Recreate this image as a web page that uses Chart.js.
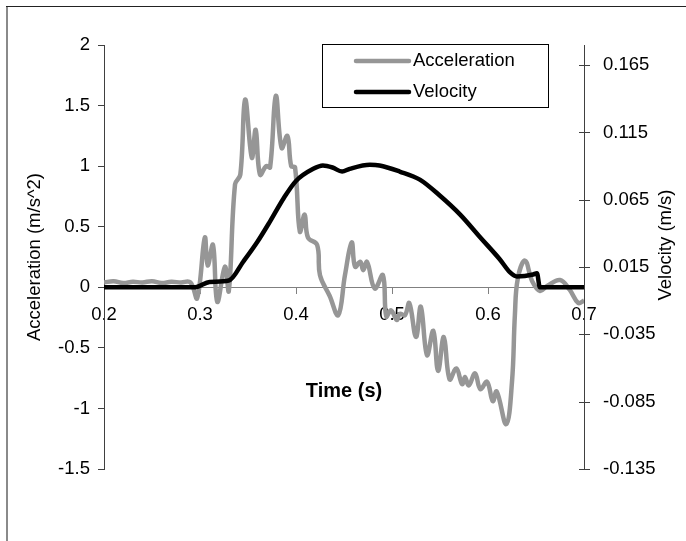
<!DOCTYPE html>
<html>
<head>
<meta charset="utf-8">
<script src="https://cdn.jsdelivr.net/npm/chart.js"></script>
<style>
  html, body { margin: 0; padding: 0; background: #fff; }
  canvas { display: block; }
</style>
</head>
<body>
<canvas id="chart" width="686" height="541"></canvas>
<script>
// acceleration trace (time in s, m/s^2)
const accTime = [0.200, 0.210, 0.220, 0.230, 0.240, 0.250, 0.260, 0.270, 0.280, 0.290,
    0.297, 0.305, 0.308, 0.3135, 0.318, 0.326, 0.330, 0.3365, 0.342, 0.347,
    0.354, 0.358, 0.3625, 0.369, 0.373, 0.379, 0.385, 0.391, 0.395, 0.399,
    0.404, 0.409, 0.4125, 0.422, 0.425, 0.435, 0.444, 0.451, 0.458, 0.4615,
    0.467, 0.470, 0.474, 0.482, 0.4905, 0.494, 0.499, 0.505, 0.508, 0.5135,
    0.518, 0.525, 0.530, 0.5365, 0.543, 0.548, 0.554, 0.560, 0.567, 0.573,
    0.576, 0.580, 0.5865, 0.592, 0.599, 0.605, 0.609, 0.619, 0.625, 0.628,
    0.631, 0.6385, 0.646, 0.654, 0.6615, 0.675, 0.685, 0.694, 0.700];
const accValues = [0.04, 0.05, 0.035, 0.045, 0.04, 0.05, 0.035, 0.045, 0.04, 0.04,
    -0.09, 0.41, 0.18, 0.35, -0.12, 0.17, -0.03, 0.85, 0.93, 1.55,
    1.07, 1.30, 0.93, 1.0, 0.99, 1.58, 1.15, 1.25, 1.0, 0.99,
    0.46, 0.6, 0.41, 0.35, 0.10, -0.07, -0.23, 0.10, 0.37, 0.17,
    0.21, 0.14, 0.21, -0.01, 0.10, -0.24, -0.19, -0.27, -0.22, -0.23,
    -0.13, -0.41, -0.16, -0.56, -0.36, -0.69, -0.41, -0.76, -0.67, -0.80,
    -0.74, -0.81, -0.71, -0.84, -0.78, -0.94, -0.86, -1.13, -0.78, -0.23,
    0.07, 0.22, 0.05, -0.03, 0.01, 0.06, -0.02, -0.13, -0.11];

// velocity trace (time in s, m/s)
const velTime = [0.2, 0.295, 0.31, 0.33, 0.345, 0.36, 0.373, 0.387, 0.40, 0.418,
    0.428, 0.438, 0.448, 0.456, 0.477, 0.487, 0.508, 0.529, 0.55, 0.571,
    0.592, 0.612, 0.623, 0.63, 0.647, 0.651, 0.654, 0.7];
const velValues = [0, 0, 0.004, 0.005, 0.019, 0.034, 0.049, 0.066, 0.079, 0.088,
    0.0905, 0.089, 0.086, 0.088, 0.091, 0.0905, 0.086, 0.080, 0.068, 0.054,
    0.037, 0.021, 0.011, 0.008, 0.0095, 0.0105, 0, 0];

const timeTicks = [0.2, 0.3, 0.4, 0.5, 0.6, 0.7];
const accTicks = [-1.5, -1, -0.5, 0, 0.5, 1, 1.5, 2];
const velTicks = [-0.135, -0.085, -0.035, 0.015, 0.065, 0.115, 0.165];

const FONT = "'Liberation Sans', Arial, sans-serif";
Chart.defaults.font.family = FONT;
Chart.defaults.font.size = 18.5;
Chart.defaults.color = '#000';

const toPoints = (xs, ys) => xs.map((x, i) => ({ x: x, y: ys[i] }));

// frame, right-axis cross ticks, titles and the boxed legend
const decorations = {
    id: 'decorations',
    beforeDraw(chart) {
        const ctx = chart.ctx;
        ctx.save();
        ctx.fillStyle = '#fff';
        ctx.fillRect(0, 0, chart.width, chart.height);
        ctx.strokeStyle = '#8a8a8a';
        ctx.lineWidth = 2;
        ctx.beginPath();
        ctx.moveTo(7, chart.height);
        ctx.lineTo(7, 6);
        ctx.stroke();
        ctx.strokeStyle = '#222';
        ctx.lineWidth = 1;
        ctx.beginPath();
        ctx.moveTo(6, 6.5);
        ctx.lineTo(chart.width, 6.5);
        ctx.stroke();
        ctx.restore();
    },
    afterDraw(chart) {
        const ctx = chart.ctx;
        const y1 = chart.scales.y1;
        const area = chart.chartArea;
        ctx.save();

        ctx.strokeStyle = '#404040';
        ctx.lineWidth = 1;
        y1.ticks.forEach(t => {
            const py = Math.round(y1.getPixelForValue(t.value)) + 0.5;
            ctx.beginPath();
            ctx.moveTo(area.right - 5, py);
            ctx.lineTo(area.right + 6, py);
            ctx.stroke();
        });

        ctx.fillStyle = '#000';
        ctx.textAlign = 'center';
        ctx.textBaseline = 'middle';
        ctx.font = "18.5px " + FONT;
        ctx.save();
        ctx.translate(666, 245);
        ctx.rotate(-Math.PI / 2);
        ctx.fillText('Velocity (m/s)', 0, 0);
        ctx.restore();

        ctx.font = "bold 20px " + FONT;
        ctx.fillText('Time (s)', (area.left + area.right) / 2, 391);

        // legend
        ctx.fillStyle = '#fff';
        ctx.fillRect(322.5, 44.5, 226, 63);
        ctx.strokeStyle = '#000';
        ctx.strokeRect(322.5, 44.5, 226, 63);
        ctx.font = "18.5px " + FONT;
        ctx.textAlign = 'left';
        chart.data.datasets.forEach((ds, i) => {
            const ly = 61 + 31 * i;
            ctx.strokeStyle = ds.borderColor;
            ctx.lineWidth = ds.borderWidth;
            ctx.lineCap = 'round';
            ctx.beginPath();
            ctx.moveTo(356, ly);
            ctx.lineTo(409, ly);
            ctx.stroke();
            ctx.fillStyle = '#000';
            ctx.fillText(ds.label, 413, ly);
        });
        ctx.restore();
    }
};

new Chart(document.getElementById('chart').getContext('2d'), {
    type: 'line',
    data: {
        datasets: [
            {
                label: 'Acceleration',
                data: toPoints(accTime, accValues),
                borderColor: '#969696',
                borderWidth: 4.5,
                pointRadius: 0,
                tension: 0.4,
                yAxisID: 'y',
                order: 2
            },
            {
                label: 'Velocity',
                data: toPoints(velTime, velValues),
                borderColor: '#000000',
                borderWidth: 4.5,
                pointRadius: 0,
                cubicInterpolationMode: 'monotone',
                yAxisID: 'y1',
                order: 1
            }
        ]
    },
    options: {
        responsive: false,
        animation: false,
        devicePixelRatio: 1,
        layout: { padding: { left: 0, right: 0, top: 45, bottom: 72 } },
        plugins: { legend: { display: false }, tooltip: { enabled: false } },
        scales: {
            x: {
                type: 'linear',
                min: 0.2,
                max: 0.7,
                position: { y: 0 },
                afterBuildTicks: s => { s.ticks = timeTicks.map(v => ({ value: v })); },
                border: { color: '#808080', width: 1 },
                grid: { drawOnChartArea: false, tickLength: 6, color: '#808080' },
                ticks: { padding: 11, maxRotation: 0, autoSkip: false, callback: v => v.toFixed(1) }
            },
            y: {
                type: 'linear',
                position: 'left',
                min: -1.5,
                max: 2,
                afterBuildTicks: s => { s.ticks = accTicks.map(v => ({ value: v })); },
                afterFit: s => { s.width = 104; },
                border: { color: '#404040', width: 1 },
                grid: { drawOnChartArea: false, tickLength: 6, color: '#404040' },
                ticks: { padding: 8, callback: v => String(v) },
                title: {
                    display: true,
                    text: 'Acceleration (m/s^2)',
                    font: { size: 18.5 },
                    padding: { top: 24, bottom: 0 }
                }
            },
            y1: {
                type: 'linear',
                position: 'right',
                min: -0.135,
                max: 0.18,
                afterBuildTicks: s => { s.ticks = velTicks.map(v => ({ value: v })); },
                afterFit: s => { s.width = 102; },
                border: { color: '#404040', width: 1 },
                grid: { drawOnChartArea: false, drawTicks: false },
                ticks: { padding: 19, callback: v => v.toFixed(3) }
            }
        }
    },
    plugins: [decorations]
});
</script>
</body>
</html>
